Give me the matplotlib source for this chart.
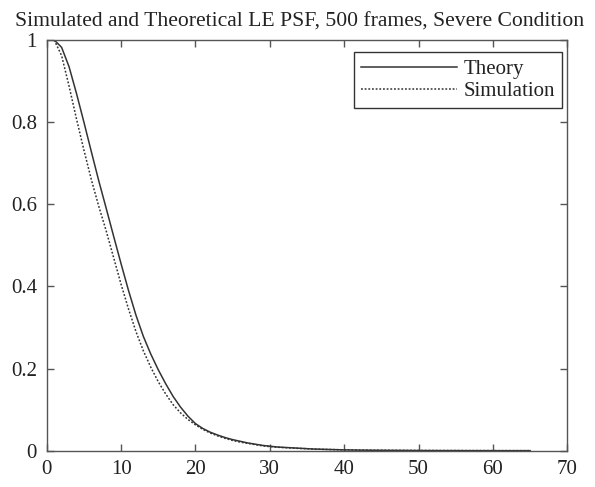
import numpy as np
import matplotlib
matplotlib.use("Agg")
import matplotlib.pyplot as plt

plt.rcParams['font.family'] = ['Liberation Serif', 'DejaVu Serif']

# sample index 1..65
x = np.arange(1, 66)

theory = [1.000, 0.982, 0.935, 0.870, 0.800, 0.728, 0.657, 0.590, 0.522, 0.455,
          0.390, 0.330, 0.278, 0.235, 0.197, 0.163, 0.132, 0.106, 0.084, 0.066,
          0.054, 0.045, 0.038, 0.032, 0.027, 0.023, 0.019, 0.016, 0.013, 0.011,
          0.009, 0.008, 0.007, 0.006, 0.005, 0.004, 0.0035, 0.003, 0.0025, 0.002,
          0.0018, 0.0015, 0.0013, 0.0011, 0.0010, 0.0009, 0.0008, 0.0007, 0.0006, 0.0005,
          0.0004, 0.0004, 0.0003, 0.0003, 0.0003, 0.0002, 0.0002, 0.0002, 0.0002, 0.0001,
          0.0001, 0.0001, 0.0001, 0.0001, 0.0001]

simulation = [1.000, 0.962, 0.888, 0.808, 0.732, 0.660, 0.595, 0.535, 0.470, 0.405,
              0.345, 0.290, 0.243, 0.203, 0.168, 0.138, 0.112, 0.092, 0.076, 0.063,
              0.052, 0.043, 0.036, 0.030, 0.025, 0.021, 0.018, 0.015, 0.012, 0.010,
              0.0085, 0.0075, 0.0065, 0.0055, 0.0048, 0.0040, 0.0034, 0.0030, 0.0026, 0.0022,
              0.0019, 0.0016, 0.0014, 0.0012, 0.0011, 0.0010, 0.0009, 0.0008, 0.0007, 0.0006,
              0.0006, 0.0005, 0.0005, 0.0004, 0.0004, 0.0004, 0.0003, 0.0003, 0.0003, 0.0003,
              0.0002, 0.0002, 0.0002, 0.0002, 0.0002]

xticks = [0, 10, 20, 30, 40, 50, 60, 70]
yticks = [0, 0.2, 0.4, 0.6, 0.8, 1]
ytick_labels = ['0', '0.2', '0.4', '0.6', '0.8', '1']

fig = plt.figure(figsize=(5.95, 4.87), dpi=100)
ax = fig.add_axes([0.0785, 0.0745, 0.875, 0.8435])

line_col = '#333333'
ax.plot(x, theory, color=line_col, lw=1.1, ls='-', label='Theory')
ax.plot(x, simulation, color=line_col, lw=1.1, ls=(0, (1.2, 1.2)), label='Simulation')

ax.set_xlim(0, 70)
ax.set_ylim(0, 1)
ax.set_xticks(xticks)
ax.set_yticks(yticks)
ax.set_yticklabels(ytick_labels)

for s in ax.spines.values():
    s.set_color('#555555')
    s.set_linewidth(1.0)

ax.tick_params(direction='in', length=5, width=1, color='#555555',
               top=True, right=True, labelsize=15, labelcolor='#222222', pad=7)

# title centred on the figure, like the reference
fig.text(0.503, 0.955, 'Simulated and Theoretical LE PSF, 500 frames, Severe Condition',
         fontsize=15.6, color='#222222', ha='center', va='center')

leg = ax.legend(loc='upper right', bbox_to_anchor=(562 / 595, 1 - 52 / 487),
                bbox_transform=fig.transFigure, fontsize=15, handlelength=4.6,
                fancybox=False, framealpha=1, edgecolor='#333333',
                borderaxespad=0, borderpad=0.35, labelspacing=0.12, handletextpad=0.3)
leg.get_frame().set_linewidth(1.0)
for t in leg.get_texts():
    t.set_color('#222222')

fig.savefig('out.png', dpi=100)
